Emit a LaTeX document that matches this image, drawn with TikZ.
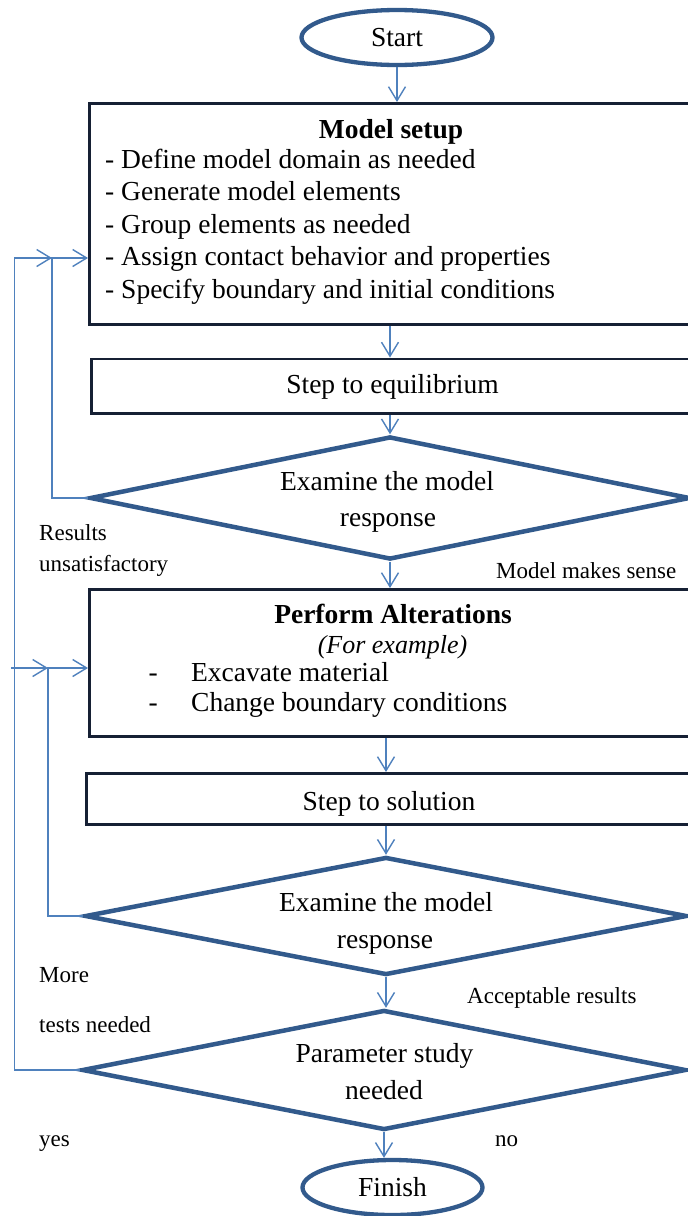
\documentclass[tikz,border=0pt]{standalone}
\usepackage{fontspec}
\usepackage{graphicx}
\setmainfont{Liberation Serif}
\usetikzlibrary{arrows.meta,shapes.geometric}
\definecolor{dblue}{RGB}{50,90,140}
\definecolor{lblue}{RGB}{79,129,189}
\definecolor{boxline}{RGB}{22,32,52}
\begin{document}
\begin{tikzpicture}[x=1pt,y=-1pt,
  big/.style={font=\fontsize{27.5}{33}\selectfont, inner sep=0pt},
  bigb/.style={inner sep=0pt, font=\fontsize{27.5}{33}\selectfont\bfseries},
  bigi/.style={inner sep=0pt, font=\fontsize{26}{31}\selectfont\itshape},
  small/.style={font=\fontsize{23}{28}\selectfont, inner sep=0pt},
  term/.style={ellipse, draw=dblue, line width=4.3pt, inner sep=0pt, font=\fontsize{27.5}{33}\selectfont},
  proc/.style={rectangle, draw=boxline, line width=2.8pt, inner sep=0pt, anchor=north west},
  dec/.style={diamond, draw=dblue, line width=4.5pt, inner sep=0pt},
  arr/.style={draw=lblue, line width=1.4pt, -{Straight Barb[length=14pt,width=17pt]}}
]
\clip (0,0) rectangle (688,1216);
\fill[white] (0,0) rectangle (688,1216);

% Start
\node[term, minimum width=191pt, minimum height=55pt] (start) at (397,37.5) {Start};

% Model setup
\node[proc, minimum width=618pt, minimum height=221pt] (setup) at (88,102) {};
\node[bigb, anchor=base] (setupT) at (391,138) {Model setup};
\node[big, anchor=base west] (s1) at (105,168) {- Define model domain as needed};
\node[big, anchor=base west] (s2) at (105,200.5) {- Generate model elements};
\node[big, anchor=base west] (s3) at (105,233) {- Group elements as needed};
\node[big, anchor=base west] (s4) at (105,265.5) {- Assign contact behavior and properties};
\node[big, anchor=base west] (s5) at (105,298) {- Specify boundary and initial conditions};

% Step to equilibrium
\node[proc, minimum width=610pt, minimum height=54.5pt] (step1) at (90,357.5) {};
\node[big, anchor=base] (step1T) at (392.5,393) {Step to equilibrium};

% Decision 1
\node[dec, minimum width=600pt, minimum height=123pt] (d1) at (390,498) {};
\node[big, anchor=base] (d1a) at (387,490) {Examine the model};
\node[big, anchor=base] (d1b) at (388,526.5) {response};
\node[small, anchor=base west] (l1a) at (39,540) {Results};
\node[small, anchor=base west] (l1b) at (39,571.5) {unsatisfactory};
\node[small, anchor=base west] (l1c) at (496,578) {Model makes sense};

% Perform alterations
\node[proc, minimum width=615pt, minimum height=147pt] (alt) at (88,588) {};
\node[bigb, anchor=base] (altT) at (393,623) {Perform Alterations};
\node[bigi, anchor=base] (altE) at (392.5,653) {(For example)};
\node[big, anchor=base west] (a1) at (148.5,681.5) {\makebox[42.5pt][l]{-}Excavate material};
\node[big, anchor=base west] (a2) at (148.5,711.5) {\makebox[42.5pt][l]{-}Change boundary conditions};

% Step to solution
\node[proc, minimum width=615pt, minimum height=51pt] (step2) at (85,772) {};
\node[big, anchor=base] (step2T) at (389,810) {Step to solution};

% Decision 2
\node[dec, minimum width=602pt, minimum height=118pt] (d2) at (386,916) {};
\node[big, anchor=base] (d2a) at (386,911.5) {Examine the model};
\node[big, anchor=base] (d2b) at (385,948) {response};
\node[small, anchor=base west] (l2a) at (39,982.5) {More};
\node[small, anchor=base west] (l2b) at (39,1032.5) {tests needed};
\node[small, anchor=base west] (l2c) at (467,1003) {Acceptable results};

% Decision 3
\node[dec, minimum width=604pt, minimum height=120pt] (d3) at (384,1070) {};
\node[big, anchor=base] (d3a) at (384.5,1062.5) {Parameter study};
\node[big, anchor=base] (d3b) at (384,1099) {needed};
\node[small, anchor=base west] (l3a) at (39,1146.5) {yes};
\node[small, anchor=base west] (l3b) at (495,1146.5) {no};

% Finish
\node[term, minimum width=180pt, minimum height=55pt] (finish) at (392.5,1187.5) {Finish};

% Main flow
\draw[arr] (start.south) -- (start.south |- setup.north);
\draw[arr] (setup.south -| d1.north) -- (step1.north -| d1.north);
\draw[arr] (step1.south -| d1.north) -- (d1.north);
\draw[arr] (d1.south) -- (d1.south |- alt.north);
\draw[arr] (alt.south -| d2.north) -- (step2.north -| d2.north);
\draw[arr] (step2.south -| d2.north) -- (d2.north);
\draw[arr] (d2.south) -- (d2.south |- d3.north);
\draw[arr] (d3.south) -- (d3.south |- finish.north);

% Feedback loops
\coordinate (fb1) at (52,258);
\coordinate (fb2) at (48,668);
\coordinate (fb3) at (14.5,258);
\coordinate (fb4) at (11,668);
\draw[arr] (d1.west) -| (fb1) -- (fb1 -| setup.west);
\draw[arr] (d2.west) -| (fb2) -- (fb2 -| alt.west);
\draw[arr] (d3.west) -| (fb3) -- (fb1);
\draw[arr] (fb4) -- (fb2);
\end{tikzpicture}
\end{document}
